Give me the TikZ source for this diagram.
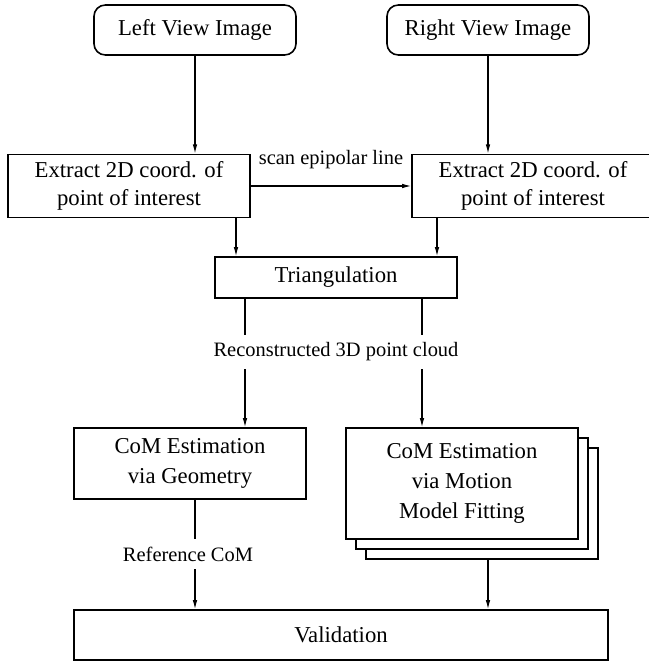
\documentclass[tikz,border=0pt]{standalone}
\usepackage{fontspec}
\setmainfont{Liberation Serif}
\usetikzlibrary{arrows.meta}

\begin{document}
\begin{tikzpicture}[x=0.44pt, y=-0.44pt,
  imgbox/.style={draw, line width=0.7pt, rounded corners=5pt, minimum width=88.9pt, minimum height=22pt},
  stepbox/.style={draw, line width=0.7pt, fill=white, align=center},
  combox/.style={stepbox, font=\fontsize{10}{13.2}\selectfont, minimum width=102pt},
  lbl/.style={font=\small},
  arr/.style={-{Latex[length=4pt,width=2pt]}, line width=0.5pt}]
  % Drawing parameters
  \pgfmathsetmacro{\stk}{10}
  \useasboundingbox (0,0) rectangle (649,664);

  % input images
  \node[imgbox] (leftimg) at (195,30) {Left View Image};
  \node[imgbox] (rightimg) at (488,30) {Right View Image};

  \node[stepbox, minimum width=106.5pt, minimum height=27.3pt] (leftpt) at (129,186) {Extract 2D coord. of\\point of interest};
  \node[stepbox, minimum width=106.5pt, minimum height=27.3pt] (rightpt) at (533,186) {Extract 2D coord. of\\point of interest};

  \node[stepbox, minimum width=106.5pt, minimum height=18pt] (tri) at (336,277.5) {Triangulation};
  \node[lbl] (cloud) at (336,352) {Reconstructed 3D point cloud};

  % stacked copies behind the motion model box
  \foreach \k in {2,1}
    \draw[line width=0.7pt, fill=white] (346+\k*\stk, 428+\k*\stk) rectangle (578+\k*\stk, 539+\k*\stk);

  \node[combox, minimum height=31.2pt] (geo) at (190,463.5) {CoM Estimation\\via Geometry};
  \node[combox, minimum height=48.8pt] (fit) at (462,483.5) {CoM Estimation\\via Motion\\Model Fitting};
  \node[lbl] (refcom) at (188,554) {Reference CoM};

  \node[stepbox, minimum width=235pt, minimum height=22pt] (valid) at (341,635) {Validation};

  \coordinate (tl) at (236,0);
  \coordinate (tr) at (437,0);
  \coordinate (cl) at (245,0);
  \coordinate (cr) at (422,0);
  \coordinate (gx) at (195,0);
  \coordinate (stackbot) at (488,559);

  \draw[arr] (leftimg.south) -- (leftimg.south |- leftpt.north);
  \draw[arr] (rightimg.south) -- (rightimg.south |- rightpt.north);
  \draw[arr] (leftpt.east) -- (rightpt.west) node[midway, above=4pt, lbl] {scan epipolar line};

  \draw[arr] (tl |- leftpt.south) -- (tl |- tri.north);
  \draw[arr] (tr |- rightpt.south) -- (tr |- tri.north);

  \draw[line width=0.5pt] (cl |- tri.south) -- (cl |- cloud.north);
  \draw[line width=0.5pt] (cr |- tri.south) -- (cr |- cloud.north);
  \draw[arr] (cl |- cloud.south) -- (cl |- geo.north);
  \draw[arr] (cr |- cloud.south) -- (cr |- fit.north);

  \draw[line width=0.5pt] (gx |- geo.south) -- (gx |- refcom.north);
  \draw[arr] (gx |- refcom.south) -- (gx |- valid.north);
  \draw[arr] (stackbot) -- (stackbot |- valid.north);

\end{tikzpicture}
\end{document}
